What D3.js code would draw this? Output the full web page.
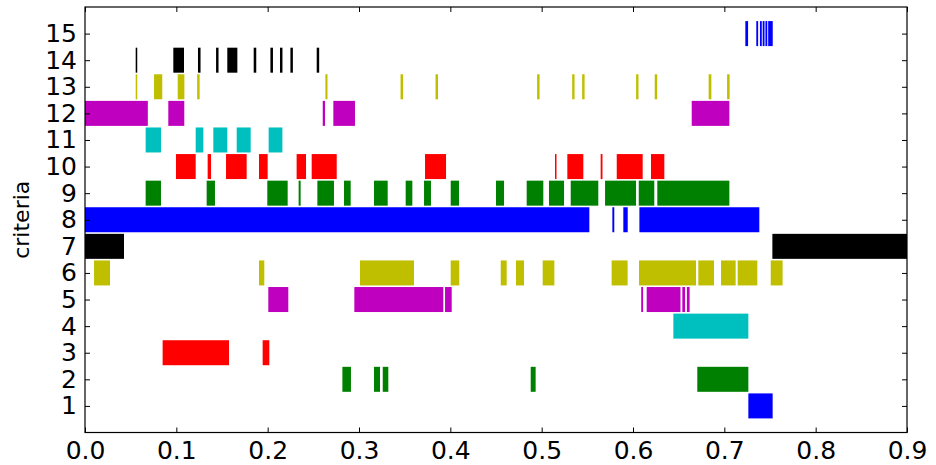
<!DOCTYPE html>
<html>
<head>
<meta charset="utf-8">
<script src="https://cdn.jsdelivr.net/npm/d3@7"></script>
<style>
  body { margin: 0; background: #fff; }
  text { font-family: "DejaVu Sans", sans-serif; }
</style>
</head>
<body>
<div id="chart"></div>
<script>
// criteria on the y axis, 1..15
const criteria = d3.range(1, 16);
const xTicks = [0, 0.1, 0.2, 0.3, 0.4, 0.5, 0.6, 0.7, 0.8, 0.9];
// matplotlib classic colour cycle b g r c m y k
const colors = ["#0000ff", "#008000", "#ff0000", "#00bfbf", "#bf00bf", "#bfbf00", "#000000"];

// [start, end] intervals per criterion (index 0 = criterion 1)
const spans = [
  [[0.7263, 0.7529]],
  [[0.2818, 0.2912], [0.3164, 0.323], [0.326, 0.3321], [0.488, 0.4934], [0.6704, 0.7263]],
  [[0.085, 0.1577], [0.1945, 0.2018]],
  [[0.6442, 0.7263]],
  [[0.2007, 0.2226], [0.2949, 0.3923], [0.3942, 0.4015], [0.609, 0.611], [0.615, 0.652], [0.654, 0.657], [0.659, 0.662]],
  [[0.0099, 0.0274], [0.1905, 0.1963], [0.3011, 0.3602], [0.4004, 0.4098], [0.4552, 0.4617], [0.4719, 0.4807],
   [0.5011, 0.5139], [0.5766, 0.5941], [0.6066, 0.669], [0.6715, 0.6887], [0.6964, 0.7124], [0.7146, 0.7361], [0.7508, 0.7638]],
  [[0.0, 0.0427], [0.7526, 0.9]],
  [[0.0, 0.5522], [0.5774, 0.5795], [0.5894, 0.5942], [0.607, 0.7383]],
  [[0.0664, 0.0832], [0.1332, 0.1423], [0.1996, 0.2219], [0.2339, 0.2361], [0.2544, 0.2726], [0.2836, 0.2909],
   [0.3164, 0.3314], [0.3511, 0.3584], [0.3712, 0.3788], [0.4004, 0.4095], [0.45, 0.4588], [0.4836, 0.5018],
   [0.508, 0.5245], [0.5318, 0.562], [0.5694, 0.6033], [0.6063, 0.6233], [0.6266, 0.7055]],
  [[0.0996, 0.1212], [0.1343, 0.138], [0.1544, 0.177], [0.1905, 0.2], [0.2317, 0.242], [0.2482, 0.2756],
   [0.3723, 0.3953], [0.5146, 0.5162], [0.5281, 0.5456], [0.5646, 0.5666], [0.5822, 0.6106], [0.6197, 0.6343]],
  [[0.0664, 0.0832], [0.1212, 0.1296], [0.1405, 0.1558], [0.1661, 0.1814], [0.2011, 0.2161]],
  [[0.0, 0.0688], [0.0912, 0.1087], [0.2603, 0.2628], [0.2719, 0.2956], [0.6643, 0.7055]],
  [[0.0555, 0.0572], [0.0756, 0.0846], [0.1015, 0.1088], [0.1228, 0.1255], [0.2632, 0.2655], [0.3455, 0.3482],
   [0.3838, 0.3865], [0.495, 0.4977], [0.5334, 0.536], [0.5443, 0.547], [0.6034, 0.606], [0.6238, 0.6265],
   [0.6828, 0.6858], [0.703, 0.7058]],
  [[0.0555, 0.0572], [0.0967, 0.1084], [0.1237, 0.1265], [0.1435, 0.1462], [0.1558, 0.1668], [0.1847, 0.1875],
   [0.203, 0.2058], [0.2135, 0.2162], [0.2249, 0.2276], [0.2537, 0.2564]],
  [[0.723, 0.726], [0.735, 0.737], [0.739, 0.741], [0.742, 0.744], [0.745, 0.747], [0.748, 0.753]]
];

const W = 936, H = 465;
const margin = {top: 7, right: 29, bottom: 32.5, left: 85};

const svg = d3.select("#chart").append("svg")
    .attr("width", W)
    .attr("height", H);

const x = d3.scaleLinear().domain([0, 0.9]).range([margin.left, W - margin.right]);
const y = d3.scaleLinear().domain([0, 16]).range([H - margin.bottom, margin.top]);
const barH = (y(0) - y(1)) * 0.94;

// bars
criteria.forEach((c, i) => {
    svg.append("g")
        .selectAll("rect")
        .data(spans[i])
        .join("rect")
        .attr("x", d => x(d[0]))
        .attr("y", y(c) - barH / 2)
        .attr("width", d => Math.max(1.5, x(d[1]) - x(d[0])))
        .attr("height", barH)
        .attr("fill", colors[i % colors.length]);
});

// axes, ticks pointing inwards on all four sides
const tickLen = 5;
svg.append("g")
    .attr("transform", `translate(0,${y(0)})`)
    .call(d3.axisBottom(x).tickValues(xTicks).tickFormat(d3.format(".1f")).tickSizeInner(-tickLen).tickSizeOuter(0).tickPadding(9))
    .call(g => g.select(".domain").remove());
svg.append("g")
    .attr("transform", `translate(0,${y(16)})`)
    .call(d3.axisTop(x).tickValues(xTicks).tickFormat("").tickSizeInner(-tickLen).tickSizeOuter(0))
    .call(g => g.select(".domain").remove());
svg.append("g")
    .attr("transform", `translate(${x(0)},0)`)
    .call(d3.axisLeft(y).tickValues(criteria).tickFormat(d3.format("d")).tickSizeInner(-tickLen).tickSizeOuter(0).tickPadding(8))
    .call(g => g.select(".domain").remove());
svg.append("g")
    .attr("transform", `translate(${x(0.9)},0)`)
    .call(d3.axisRight(y).tickValues(criteria).tickFormat("").tickSizeInner(-tickLen).tickSizeOuter(0))
    .call(g => g.select(".domain").remove());

svg.selectAll(".tick text")
    .attr("font-size", 25)
    .attr("font-family", "DejaVu Sans")
    .attr("fill", "#000");
svg.selectAll(".tick line").attr("stroke", "#000");

// frame
svg.append("rect")
    .attr("x", x(0))
    .attr("y", y(16))
    .attr("width", x(0.9) - x(0))
    .attr("height", y(0) - y(16))
    .attr("fill", "none")
    .attr("stroke", "#000")
    .attr("stroke-width", 1.2);

svg.append("text")
    .attr("transform", `translate(29,${(y(0) + y(16)) / 2}) rotate(-90)`)
    .attr("text-anchor", "middle")
    .attr("font-size", 22)
    .text("criteria");
</script>
</body>
</html>
